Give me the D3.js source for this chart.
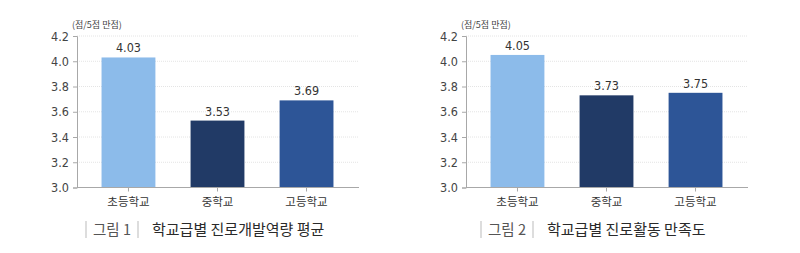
<!DOCTYPE html>
<html><head><meta charset="utf-8">
<script src="https://cdn.jsdelivr.net/npm/d3@7"></script>
<style>
html,body{margin:0;padding:0;background:#fff;}
svg{display:block;}
text{font-family:"DejaVu Sans Condensed","Noto Sans CJK KR",sans-serif;}
.kr{font-family:"Noto Sans CJK KR",sans-serif;}
</style></head>
<body>
<svg id="c" width="800" height="253"></svg>
<script>
const categories = ["초등학교", "중학교", "고등학교"];
const values1 = [4.03, 3.53, 3.69];
const values2 = [4.05, 3.73, 3.75];
const yTicks = [3.0, 3.2, 3.4, 3.6, 3.8, 4.0, 4.2];
const unitLabel = "(점/5점 만점)";
const figNums = ["그림 1", "그림 2"];
const titles = ["학교급별 진로개발역량 평균", "학교급별 진로활동 만족도"];
const colors = ["#8cbbea", "#213a66", "#2d5597"];

const svg = d3.select("#c");

function drawChart(ox, capOx, values, idx) {
  const g = svg.append("g").attr("transform", `translate(${ox},0)`);
  const axisX = 77, right = 359, top = 36, bottom = 187.5;
  const y = d3.scaleLinear().domain([3.0, 4.2]).range([bottom, top]);
  const x = d3.scaleBand().domain(categories).range([84, 351]).paddingInner(0.395).paddingOuter(0.197);

  g.selectAll(".grid").data(yTicks.slice(1)).enter().append("line")
    .attr("x1", axisX).attr("x2", right)
    .attr("y1", d => y(d)).attr("y2", d => y(d))
    .attr("stroke", "#e4e4e4").attr("stroke-width", 1).attr("stroke-dasharray", "1,1");

  g.selectAll(".bar").data(values).enter().append("rect")
    .attr("x", (d, i) => x(categories[i]))
    .attr("width", x.bandwidth())
    .attr("y", d => y(d))
    .attr("height", d => y(3.0) - y(d))
    .attr("fill", (d, i) => colors[i]);

  g.selectAll(".val").data(values).enter().append("text")
    .attr("x", (d, i) => x(categories[i]) + x.bandwidth() / 2)
    .attr("y", d => y(d) - 5)
    .attr("text-anchor", "middle")
    .attr("font-size", 12.5).attr("fill", "#333")
    .text(d => d.toFixed(2));

  const yAxis = d3.axisLeft(y).tickValues(yTicks).tickFormat(d3.format(".1f")).tickSize(4).tickPadding(4);
  const ya = g.append("g").attr("transform", `translate(${axisX},0)`).call(yAxis);
  ya.select(".domain").attr("stroke", "#a8a8a8");
  ya.selectAll(".tick line").attr("stroke", "#a8a8a8");
  ya.selectAll(".tick text").attr("font-size", 12.5).attr("fill", "#444")
    .style("font-family", '"DejaVu Sans Condensed",sans-serif');

  const xAxis = d3.axisBottom(x).tickSize(4).tickPadding(6).tickSizeOuter(0);
  const xa = g.append("g").attr("transform", `translate(0,${bottom})`).call(xAxis);
  xa.select(".domain").attr("d", `M${axisX},0H${right}`).attr("stroke", "#a8a8a8");
  xa.selectAll(".tick line").attr("stroke", "#a8a8a8");
  xa.selectAll(".tick text").attr("font-size", 11.5).attr("fill", "#333")
    .attr("class", "kr").style("font-family", '"Noto Sans CJK KR",sans-serif');

  g.append("text").attr("x", 72).attr("y", 28).attr("font-size", 9).attr("fill", "#444")
    .attr("class", "kr").text(unitLabel);

  const c = svg.append("g").attr("transform", `translate(${capOx},0)`);
  c.append("line").attr("x1", 86).attr("x2", 86).attr("y1", 221).attr("y2", 238).attr("stroke", "#bbb").attr("stroke-width", 1);
  c.append("text").attr("x", 93).attr("y", 235).attr("font-size", 14.5).attr("fill", "#555")
    .attr("class", "kr").text(figNums[idx]);
  c.append("line").attr("x1", 138).attr("x2", 138).attr("y1", 221).attr("y2", 238).attr("stroke", "#bbb").attr("stroke-width", 1);
  c.append("text").attr("x", 152).attr("y", 235).attr("font-size", 15).attr("fill", "#2a2a2a")
    .attr("font-weight", 400).attr("class", "kr").text(titles[idx]);
}

drawChart(0, 0, values1, 0);
drawChart(389, 395, values2, 1);
</script>
</body></html>
